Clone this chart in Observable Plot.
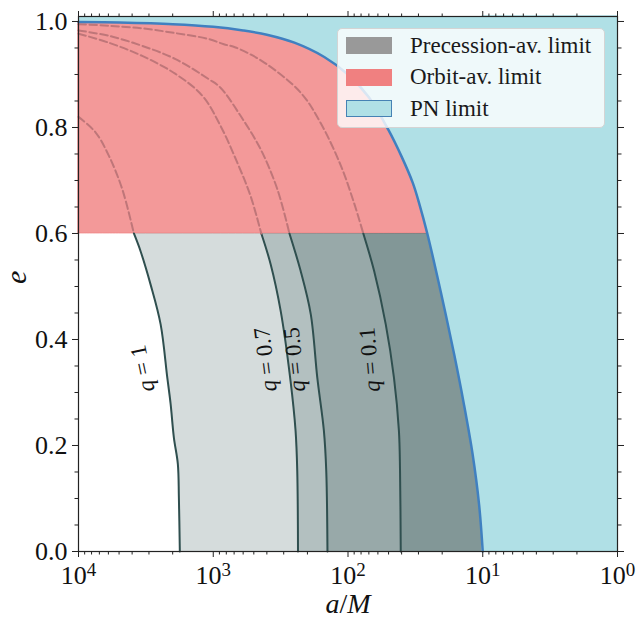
<!DOCTYPE html>
<html>
<head>
<meta charset="utf-8">
<script src="https://cdn.jsdelivr.net/npm/d3@7"></script>
<script src="https://cdn.jsdelivr.net/npm/@observablehq/plot@0.6"></script>
<style>
  body { margin: 0; background: #fff; }
  #wrap { position: relative; width: 636px; height: 621px; }
  #legend { position: absolute; left: 337px; top: 28px; width: 266px; height: 98px;
    border: 1px solid #d4d4d4; border-radius: 5px; background: rgba(255,255,255,0.8);
    font-family: 'Liberation Serif', serif; font-size: 23px; color: #1a1a1a; }
  .item { position: absolute; left: 8px; height: 32px; display: flex; align-items: center; white-space: nowrap; }
  .sw { width: 46px; height: 17px; box-sizing: border-box; margin-right: 18px; }
</style>
</head>
<body>
<div id="wrap"></div>
<script>
// ---------------- data (a/M, e) ----------------
const xTicks = [10000, 1000, 100, 10, 1];
const xMinor = [2,3,4,5,6,7,8,9,20,30,40,50,60,70,80,90,200,300,400,500,600,700,800,900,2000,3000,4000,5000,6000,7000,8000,9000];
const yTicks = [0, 0.2, 0.4, 0.6, 0.8, 1.0];
const yMinor = [0.05,0.1,0.15,0.25,0.3,0.35,0.45,0.5,0.55,0.65,0.7,0.75,0.85,0.9,0.95];

// PN limit boundary
const blueA = [10000,5000,2000,1000,600,400,250,150,100,70,50,40,33,29.5,25.8,20.5,16.3,13.8,11.9,10.65,10];
const blueE = [0.999,0.998,0.995,0.990,0.983,0.975,0.960,0.933,0.900,0.857,0.795,0.745,0.695,0.655,0.600,0.490,0.372,0.278,0.184,0.089,0];

// precession-averaged limits (solid, e <= 0.6)
const q1A  = [3880,3467,2920,2459,2193,2073,1960,1831,1799,1770];
const q1E  = [0.6,0.567,0.504,0.429,0.328,0.279,0.215,0.165,0.102,0];
const q07A = [440,375,316,267,245,238,235];
const q07E = [0.6,0.542,0.454,0.322,0.228,0.152,0];
const q05A = [272,225,189,169,151,145,142];
const q05E = [0.6,0.530,0.448,0.328,0.228,0.152,0];
const q01A = [77,64.1,52.5,45.6,41.9,41.1,40.6];
const q01E = [0.6,0.530,0.429,0.328,0.228,0.152,0];

// continuation above e = 0.6 (dashed)
const d1A  = [10000,7480,5960,4740,3880];
const d1E  = [0.82,0.791,0.747,0.684,0.6];
const d07A = [10000,5960,3366,1905,1206,883,664,529,440];
const d07E = [0.977,0.960,0.935,0.901,0.860,0.803,0.734,0.671,0.6];
const d05A = [10000,5960,3366,1905,1077,883,627,445,335,272];
const d05E = [0.983,0.973,0.954,0.929,0.891,0.875,0.822,0.759,0.684,0.6];
const d01A = [10000,5980,3366,1905,1084,834,683,421,225,160,113,90.3,77];
const d01E = [0.995,0.992,0.987,0.978,0.967,0.957,0.951,0.923,0.866,0.809,0.728,0.658,0.6];

// contour labels
const qLabels = ["q = 1", "q = 0.7", "q = 0.5", "q = 0.1"];
const labelA = [3350, 409, 249, 69];
const labelE = [0.345, 0.362, 0.362, 0.362];

const legendLabels = ["Precession-av. limit", "Orbit-av. limit", "PN limit"];

// ---------------- chart ----------------
const xDomain = [1e4, 1];
const yTop = 1.0094;
const rows = (A, E) => A.map((a, i) => ({a, e: E[i]}));
const blue = rows(blueA, blueE);
const qCurves = [rows(q1A, q1E), rows(q07A, q07E), rows(q05A, q05E), rows(q01A, q01E)];
const dashed = [rows(d1A, d1E), rows(d07A, d07E), rows(d05A, d05E), rows(d01A, d01E)];
const labelRot = [-102, -97, -96, -95];
const C = "catmull-rom";
const CYAN = "#b0e0e6";
const axisCommon = {label: null, stroke: "#222", color: "#111"};
const blank = () => "";

const plot = Plot.plot({
  width: 636, height: 621,
  marginLeft: 78, marginRight: 19, marginTop: 16, marginBottom: 70,
  x: {type: "log", domain: xDomain},
  y: {domain: [0, yTop]},
  style: {fontFamily: "'Liberation Serif', serif", fontSize: "26px", color: "#111", background: "transparent"},
  marks: [
    Plot.areaY(blue.filter(d => d.e >= 0.6), {x: "a", y1: 0.6, y2: "e", fill: "#f08080", fillOpacity: 0.8,
      stroke: "#f08080", strokeOpacity: 0.7, strokeWidth: 1, curve: C}),
    ...qCurves.map(c => Plot.areaX(c, {y: "e", x1: "a", x2: xDomain[1], fill: "#2f4f4f", fillOpacity: 0.2, curve: C})),
    Plot.areaY(blue, {x: "a", y1: "e", y2: yTop, fill: CYAN, curve: C}),
    Plot.rect([0], {x1: blueA[blueA.length - 1], x2: xDomain[1], y1: 0, y2: yTop, fill: CYAN, stroke: CYAN, strokeWidth: 1.5}),
    ...qCurves.map(c => Plot.line(c, {x: "a", y: "e", stroke: "#2f4f4f", strokeWidth: 2, curve: C})),
    ...dashed.map(c => Plot.line(c, {x: "a", y: "e", stroke: "#bf7679", strokeWidth: 2, strokeDasharray: "7.5,3.5", curve: C})),
    Plot.line(blue, {x: "a", y: "e", stroke: "#4080c0", strokeWidth: 2.5, curve: C}),
    Plot.text(qLabels, {x: labelA, y: labelE, text: d => d, rotate: labelRot, fontSize: 23, fill: "#111"}),
    Plot.frame({stroke: "#222", strokeWidth: 1.2}),
    Plot.axisX({...axisCommon, anchor: "bottom", ticks: xTicks, tickSize: 6, tickPadding: 8, fontSize: 26,
      tickFormat: d => "10^" + Math.round(Math.log10(d))}),
    Plot.axisX({...axisCommon, anchor: "bottom", ticks: xMinor, tickSize: 3.5, tickFormat: blank}),
    Plot.axisX({...axisCommon, anchor: "top", ticks: xTicks, tickSize: 6, tickFormat: blank}),
    Plot.axisX({...axisCommon, anchor: "top", ticks: xMinor, tickSize: 3.5, tickFormat: blank}),
    Plot.axisY({...axisCommon, anchor: "left", ticks: yTicks, tickSize: 6, tickPadding: 5, fontSize: 26,
      tickFormat: d3.format(".1f")}),
    Plot.axisY({...axisCommon, anchor: "left", ticks: yMinor, tickSize: 3.5, tickFormat: blank}),
    Plot.axisY({...axisCommon, anchor: "right", ticks: yTicks, tickSize: 6, tickFormat: blank}),
    Plot.axisY({...axisCommon, anchor: "right", ticks: yMinor, tickSize: 3.5, tickFormat: blank}),
    Plot.text(["e"], {frameAnchor: "left", dx: -62, rotate: -90, fontStyle: "italic", fontSize: 30, fill: "#111"}),
    Plot.text(["a/M"], {frameAnchor: "bottom", lineAnchor: "middle", dy: 53, fontSize: 28, fill: "#111"})
  ]
});

// typographic touches: superscripts and italic math symbols
const NS = "http://www.w3.org/2000/svg";
function ts(txt, attrs) {
  const s = document.createElementNS(NS, "tspan");
  for (const k in attrs) s.setAttribute(k, attrs[k]);
  s.textContent = txt;
  return s;
}
plot.querySelectorAll("text").forEach(t => {
  const s = t.textContent;
  let m = s.match(/^10\^(\d)$/);
  if (m) {
    t.textContent = "10";
    t.appendChild(ts(m[1], {dy: "-0.42em", style: "font-size:19px"}));
    return;
  }
  m = s.match(/^q( = .*)$/);
  if (m) {
    t.textContent = "";
    t.appendChild(ts("q", {"font-style": "italic"}));
    t.appendChild(document.createTextNode(m[1]));
    return;
  }
  if (s === "a/M") {
    t.textContent = "";
    t.appendChild(ts("a", {"font-style": "italic"}));
    t.appendChild(document.createTextNode("/"));
    t.appendChild(ts("M", {"font-style": "italic"}));
  }
});

const wrap = document.getElementById("wrap");
wrap.appendChild(plot);

// legend
const swatches = [
  {fill: "#999999", border: "none"},
  {fill: "#f08080", border: "none"},
  {fill: CYAN, border: "1.5px solid #4682b4"}
];
const legend = document.createElement("div");
legend.id = "legend";
legendLabels.forEach((lab, i) => {
  const it = document.createElement("div");
  it.className = "item";
  it.style.top = (0.5 + i * 31.5) + "px";
  const sw = document.createElement("div");
  sw.className = "sw";
  sw.style.background = swatches[i].fill;
  sw.style.border = swatches[i].border;
  it.appendChild(sw);
  const tx = document.createElement("span");
  tx.textContent = lab;
  it.appendChild(tx);
  legend.appendChild(it);
});
wrap.appendChild(legend);
</script>
</body>
</html>
